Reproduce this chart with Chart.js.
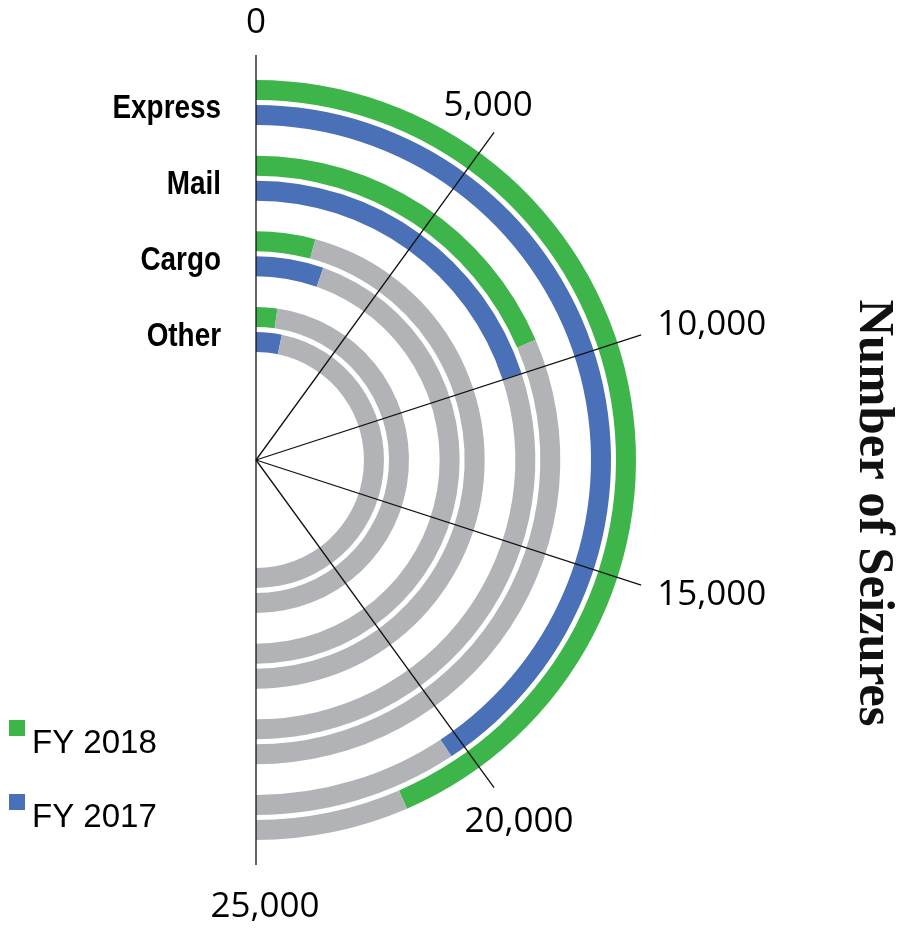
<!DOCTYPE html>
<html>
<head>
<meta charset="utf-8">
<title>Number of Seizures</title>
<script src="https://cdn.jsdelivr.net/npm/chart.js@4.4.1/dist/chart.umd.min.js"></script>
<style>
    html, body { margin: 0; padding: 0; background: #fff; }
    #wrap { width: 900px; height: 928px; }
</style>
</head>
<body>
<div id="wrap"><canvas id="seizureChart" width="900" height="928"></canvas></div>
<script>
// ================================
// Chart data
// ================================
const categories = ['Express', 'Mail', 'Cargo', 'Other'];
const seriesNames = ['FY 2018', 'FY 2017'];
const fy2018 = [21750, 9270, 2090, 1120];
const fy2017 = [20360, 9990, 2680, 1620];
const axisMax = 25000;
const tickValues = [0, 5000, 10000, 15000, 20000, 25000];
const axisTitle = 'Number of Seizures';

// Colours
const GREEN = '#3db54a';
const BLUE = '#4a70b7';
const GREY = '#b1b3b6';

const seriesData = [fy2018, fy2017];
const seriesColors = [GREEN, BLUE];

// Ring thickness and gaps (relative weights)
const RING = 20;
const PAIR_GAP = 5;
const GROUP_GAP = 30.67;

function spacer(weight) {
    return {
        label: '',
        data: [axisMax],
        backgroundColor: 'rgba(0,0,0,0)',
        borderWidth: 0,
        weight: weight,
        spacer: true
    };
}

// Build the rings, outermost first
const datasets = [];
categories.forEach((cat, ci) => {
    if (ci > 0) datasets.push(spacer(GROUP_GAP));
    seriesData.forEach((vals, si) => {
        if (si > 0) datasets.push(spacer(PAIR_GAP));
        datasets.push({
            label: cat + ' ' + seriesNames[si],
            data: [vals[ci], axisMax - vals[ci]],
            backgroundColor: [seriesColors[si], GREY],
            borderWidth: 0,
            weight: RING,
            category: ci,
            series: si
        });
    });
});

// Radial axis, labels, legend and title
const radialAxisPlugin = {
    id: 'radialAxis',
    afterDatasetsDraw(chart) {
        const ctx = chart.ctx;
        const arc0 = chart.getDatasetMeta(0).data[0];
        const cx = arc0.x, cy = arc0.y;
        const lineR = arc0.outerRadius + 25;

        ctx.save();

        // spokes + tick labels
        ctx.strokeStyle = '#111';
        ctx.lineWidth = 1.3;
        ctx.fillStyle = '#000';
        ctx.font = '35px "Open Sans", "Noto Sans", sans-serif';
        ctx.textBaseline = 'middle';
        tickValues.forEach(v => {
            const t = v / axisMax * Math.PI;
            const s = Math.sin(t), c = Math.cos(t);
            const ex = cx + lineR * s, ey = cy - lineR * c;
            ctx.beginPath();
            ctx.moveTo(cx, cy);
            ctx.lineTo(ex, ey);
            ctx.stroke();

            const text = v.toLocaleString('en-US');
            const dy = -c * (c > -0.5 ? 32 : 42);
            if (s > 0.9) {
                ctx.textAlign = 'left';
                ctx.fillText(text, ex + 16, ey + dy);
            } else {
                ctx.textAlign = 'center';
                const dx = c >= 0 ? -10 * s : 30 * s - 9 * c;
                ctx.fillText(text, ex + dx, ey + dy);
            }
        });

        // category labels (bold, squeezed to a condensed width)
        ctx.font = 'bold 34px "Liberation Sans", Arial, sans-serif';
        ctx.textAlign = 'right';
        ctx.textBaseline = 'alphabetic';
        categories.forEach((cat, ci) => {
            const rings = chart.data.datasets
                .map((d, i) => ({ d, i }))
                .filter(o => !o.d.spacer && o.d.category === ci)
                .map(o => chart.getDatasetMeta(o.i).data[0]);
            const rGap = (rings[0].innerRadius + rings[1].outerRadius) / 2;
            ctx.save();
            ctx.translate(cx - 35, cy - rGap + 16);
            ctx.scale(0.82, 1);
            ctx.fillText(cat, 0, 0);
            ctx.restore();
        });

        // legend
        ctx.font = '33px "Liberation Sans", Arial, sans-serif';
        ctx.textAlign = 'left';
        seriesNames.forEach((name, si) => {
            const top = 720 + si * 74;
            ctx.fillStyle = seriesColors[si];
            ctx.fillRect(9, top, 16, 16);
            ctx.fillStyle = '#000';
            ctx.fillText(name, 32, top + 33);
        });

        // axis title, rotated
        let size = 50;
        ctx.font = 'bold ' + size + 'px "Liberation Serif", "DejaVu Serif", serif';
        const w = ctx.measureText(axisTitle).width;
        size = size * 427 / w;
        ctx.font = 'bold ' + size.toFixed(1) + 'px "Liberation Serif", "DejaVu Serif", serif';
        ctx.translate(860, 513);
        ctx.rotate(Math.PI / 2);
        ctx.textAlign = 'center';
        ctx.fillStyle = '#111';
        ctx.fillText(axisTitle, 0, 0);

        ctx.restore();
    }
};

const chartCtx = document.getElementById('seizureChart').getContext('2d');
const seizureChart = new Chart(chartCtx, {
    type: 'doughnut',
    data: {
        labels: ['Value', 'Remainder'],
        datasets: datasets
    },
    options: {
        responsive: false,
        animation: false,
        events: [],
        rotation: 0,
        circumference: 180,
        cutout: (108 / 380 * 100).toFixed(2) + '%',
        layout: {
            padding: { left: 256, top: 80, right: 264, bottom: 88 }
        },
        plugins: {
            legend: { display: false },
            tooltip: { enabled: false }
        }
    },
    plugins: [radialAxisPlugin]
});
</script>
</body>
</html>
